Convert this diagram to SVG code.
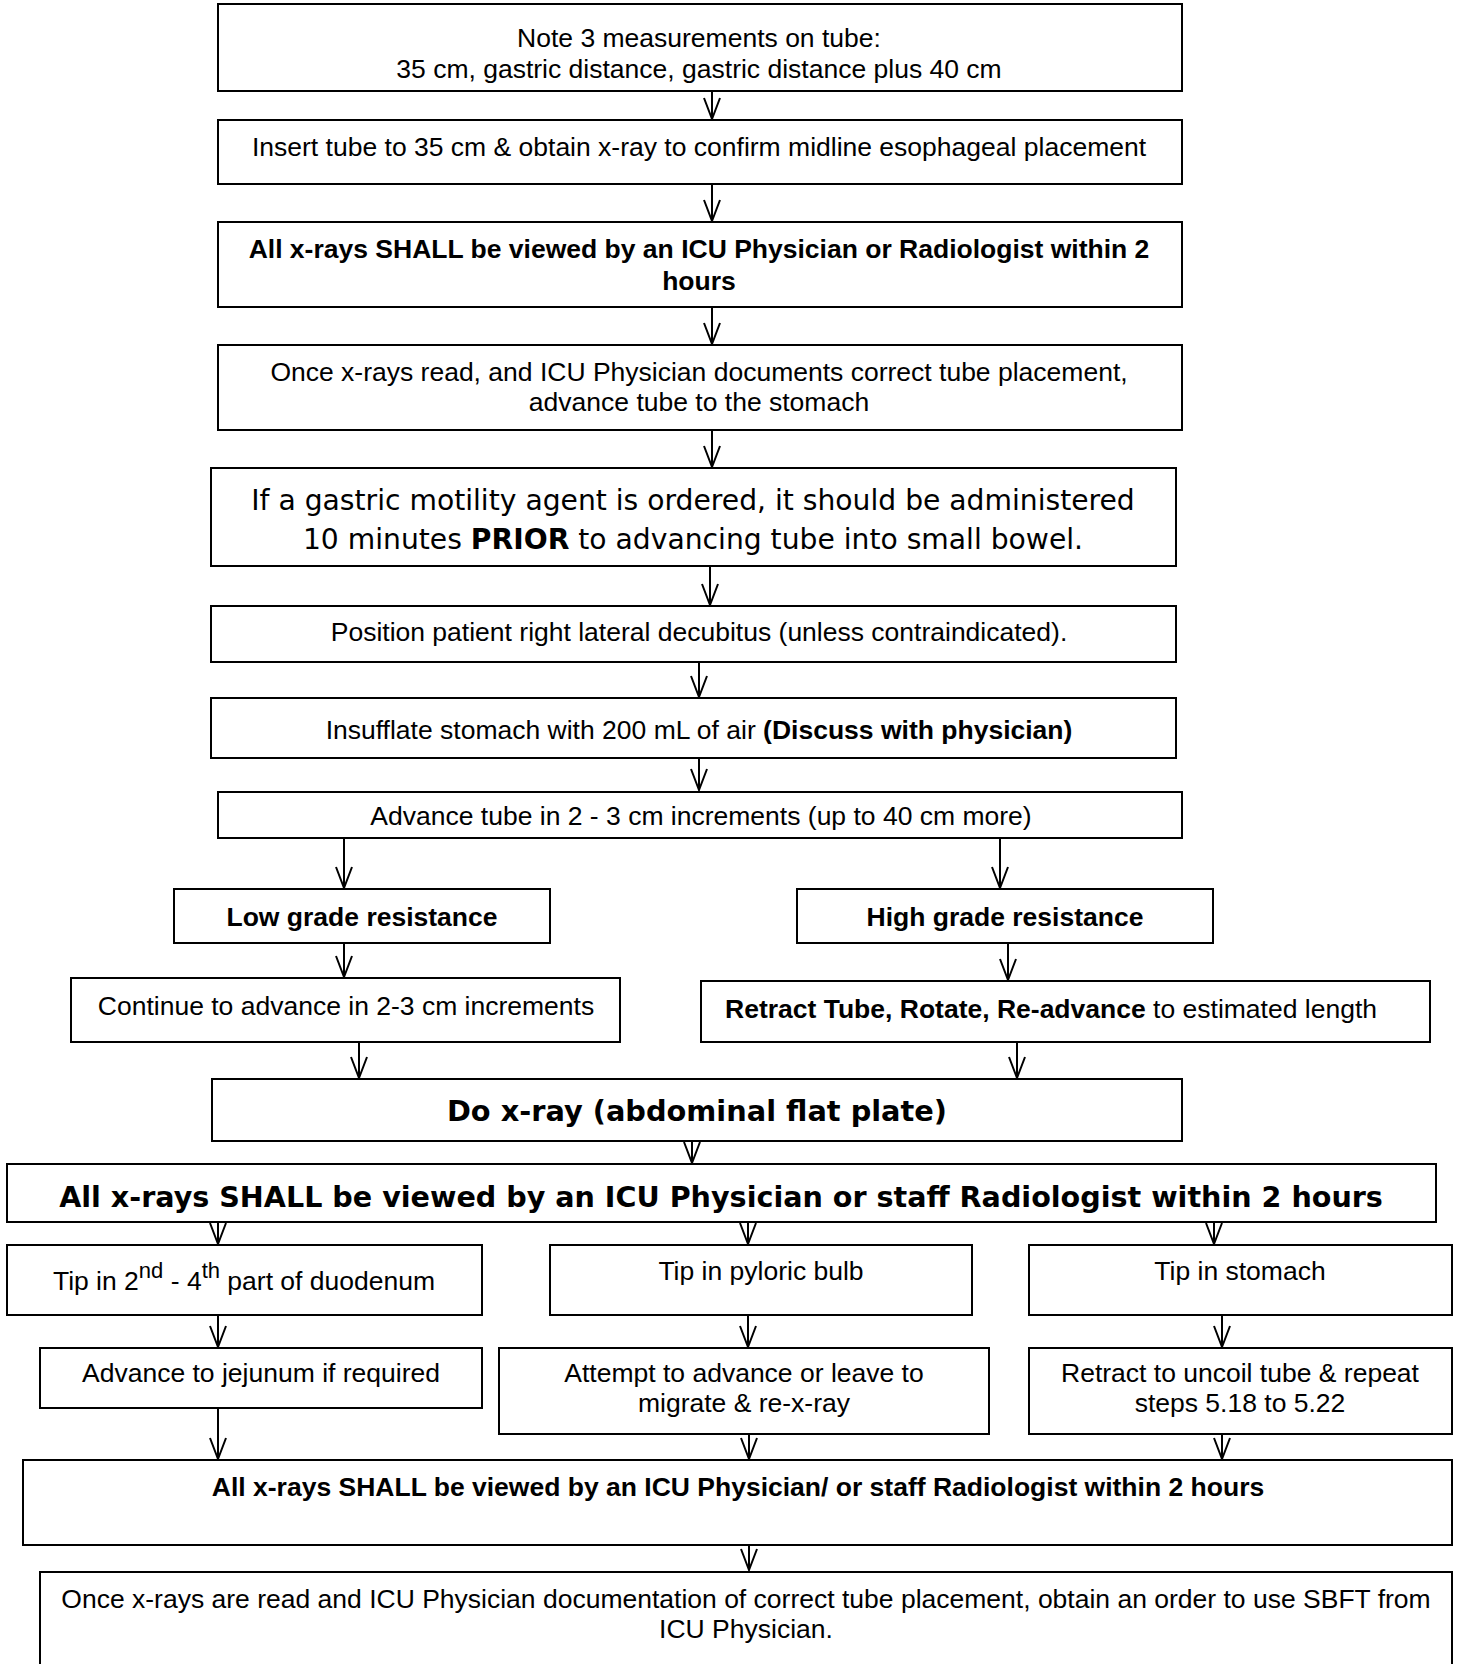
<svg xmlns="http://www.w3.org/2000/svg" width="1458" height="1664" viewBox="0 0 1458 1664">
<style>
.box{fill:#fff;stroke:#000;stroke-width:2}
.t{font-family:"Liberation Sans",Arial,sans-serif;font-size:26.5px;fill:#000;text-anchor:middle}
.b{font-weight:bold}
.v{font-family:"DejaVu Sans",Verdana,sans-serif;fill:#000;text-anchor:middle}
.c{fill:none;stroke:#000;stroke-width:2}
</style>
<defs>
<marker id="ah" markerUnits="userSpaceOnUse" markerWidth="24" markerHeight="20" refX="22" refY="9" orient="auto" viewBox="0 0 24 20" overflow="visible">
<path d="M1,1 L22,9 L1,17" fill="none" stroke="#000" stroke-width="2"/>
</marker>
</defs>
<rect width="1458" height="1664" fill="#fff"/>
<g id="connectors">
<line class="c" x1="712" y1="91" x2="712" y2="119" marker-end="url(#ah)"/>
<line class="c" x1="712" y1="184" x2="712" y2="221" marker-end="url(#ah)"/>
<line class="c" x1="712" y1="307" x2="712" y2="344" marker-end="url(#ah)"/>
<line class="c" x1="712" y1="430" x2="712" y2="467" marker-end="url(#ah)"/>
<line class="c" x1="710" y1="566" x2="710" y2="605" marker-end="url(#ah)"/>
<line class="c" x1="699" y1="662" x2="699" y2="697" marker-end="url(#ah)"/>
<line class="c" x1="699" y1="758" x2="699" y2="790" marker-end="url(#ah)"/>
<line class="c" x1="344" y1="838" x2="344" y2="888" marker-end="url(#ah)"/>
<line class="c" x1="1000" y1="838" x2="1000" y2="888" marker-end="url(#ah)"/>
<line class="c" x1="344" y1="943" x2="344" y2="977" marker-end="url(#ah)"/>
<line class="c" x1="1008" y1="943" x2="1008" y2="980" marker-end="url(#ah)"/>
<line class="c" x1="359" y1="1042" x2="359" y2="1078" marker-end="url(#ah)"/>
<line class="c" x1="1017" y1="1042" x2="1017" y2="1078" marker-end="url(#ah)"/>
<line class="c" x1="692" y1="1141" x2="692" y2="1163" marker-end="url(#ah)"/>
<line class="c" x1="218" y1="1222" x2="218" y2="1244" marker-end="url(#ah)"/>
<line class="c" x1="748" y1="1222" x2="748" y2="1244" marker-end="url(#ah)"/>
<line class="c" x1="1214" y1="1222" x2="1214" y2="1244" marker-end="url(#ah)"/>
<line class="c" x1="218" y1="1315" x2="218" y2="1347" marker-end="url(#ah)"/>
<line class="c" x1="748" y1="1315" x2="748" y2="1347" marker-end="url(#ah)"/>
<line class="c" x1="1222" y1="1315" x2="1222" y2="1347" marker-end="url(#ah)"/>
<line class="c" x1="218" y1="1408" x2="218" y2="1459" marker-end="url(#ah)"/>
<line class="c" x1="749" y1="1434" x2="749" y2="1459" marker-end="url(#ah)"/>
<line class="c" x1="1222" y1="1434" x2="1222" y2="1459" marker-end="url(#ah)"/>
<line class="c" x1="749" y1="1545" x2="749" y2="1570" marker-end="url(#ah)"/>
</g>
<g id="n1"><rect class="box" x="218" y="4" width="964" height="87"/>
<text class="t" x="699" y="47">Note 3 measurements on tube:</text>
<text class="t" x="699" y="78">35 cm, gastric distance, gastric distance plus 40 cm</text></g>
<g id="n2"><rect class="box" x="218" y="120" width="964" height="64"/>
<text class="t" x="699" y="156">Insert tube to 35 cm &amp; obtain x-ray to confirm midline esophageal placement</text></g>
<g id="n3"><rect class="box" x="218" y="222" width="964" height="85"/>
<text class="t b" x="699" y="258">All x-rays SHALL be viewed by an ICU Physician or Radiologist within 2</text>
<text class="t b" x="699" y="290">hours</text></g>
<g id="n4"><rect class="box" x="218" y="345" width="964" height="85"/>
<text class="t" x="699" y="381">Once x-rays read, and ICU Physician documents correct tube placement,</text>
<text class="t" x="699" y="411">advance tube to the stomach</text></g>
<g id="n5"><rect class="box" x="211" y="468" width="965" height="98"/>
<text class="v" font-size="28.2" x="693" y="510">If a gastric motility agent is ordered, it should be administered</text>
<text class="v" font-size="28.2" x="693" y="549">10 minutes <tspan font-weight="bold">PRIOR</tspan> to advancing tube into small bowel.</text></g>
<g id="n6"><rect class="box" x="211" y="606" width="965" height="56"/>
<text class="t" x="699" y="641">Position patient right lateral decubitus (unless contraindicated).</text></g>
<g id="n7"><rect class="box" x="211" y="698" width="965" height="60"/>
<text class="t" x="699" y="739">Insufflate stomach with 200 mL of air <tspan font-weight="bold">(Discuss with physician)</tspan></text></g>
<g id="n8"><rect class="box" x="218" y="792" width="964" height="46"/>
<text class="t" x="701" y="825">Advance tube in 2 - 3 cm increments (up to 40 cm more)</text></g>
<g id="n9"><rect class="box" x="174" y="889" width="376" height="54"/>
<text class="t b" x="362" y="926">Low grade resistance</text></g>
<g id="n10"><rect class="box" x="797" y="889" width="416" height="54"/>
<text class="t b" x="1005" y="926">High grade resistance</text></g>
<g id="n11"><rect class="box" x="71" y="978" width="549" height="64"/>
<text class="t" x="346" y="1015">Continue to advance in 2-3 cm increments</text></g>
<g id="n12"><rect class="box" x="701" y="981" width="729" height="61"/>
<text class="t" x="1051" y="1018"><tspan font-weight="bold">Retract Tube, Rotate, Re-advance</tspan> to estimated length</text></g>
<g id="n13"><rect class="box" x="212" y="1079" width="970" height="62"/>
<text class="v b" font-size="28.8" x="697" y="1121">Do x-ray (abdominal flat plate)</text></g>
<g id="n14"><rect class="box" x="7" y="1164" width="1429" height="58"/>
<text class="v b" font-size="28.6" x="721" y="1207">All x-rays SHALL be viewed by an ICU Physician or staff Radiologist within 2 hours</text></g>
<g id="n15"><rect class="box" x="7" y="1245" width="475" height="70"/>
<text class="t" x="244" y="1290">Tip in 2<tspan font-size="22" dy="-12">nd</tspan><tspan dy="12"> - 4</tspan><tspan font-size="22" dy="-12">th</tspan><tspan dy="12"> part of duodenum</tspan></text></g>
<g id="n16"><rect class="box" x="550" y="1245" width="422" height="70"/>
<text class="t" x="761" y="1280">Tip in pyloric bulb</text></g>
<g id="n17"><rect class="box" x="1029" y="1245" width="423" height="70"/>
<text class="t" x="1240" y="1280">Tip in stomach</text></g>
<g id="n18"><rect class="box" x="40" y="1348" width="442" height="60"/>
<text class="t" x="261" y="1382">Advance to jejunum if required</text></g>
<g id="n19"><rect class="box" x="499" y="1348" width="490" height="86"/>
<text class="t" x="744" y="1382">Attempt to advance or leave to</text>
<text class="t" x="744" y="1412">migrate &amp; re-x-ray</text></g>
<g id="n20"><rect class="box" x="1029" y="1348" width="423" height="86"/>
<text class="t" x="1240" y="1382">Retract to uncoil tube &amp; repeat</text>
<text class="t" x="1240" y="1412">steps 5.18 to 5.22</text></g>
<g id="n21"><rect class="box" x="23" y="1460" width="1429" height="85"/>
<text class="t b" x="738" y="1496">All x-rays SHALL be viewed by an ICU Physician/ or staff Radiologist within 2 hours</text></g>
<g id="n22"><rect class="box" x="40" y="1572" width="1412" height="110"/>
<text class="t" x="746" y="1608">Once x-rays are read and ICU Physician documentation of correct tube placement, obtain an order to use SBFT from</text>
<text class="t" x="746" y="1638">ICU Physician.</text></g>
</svg>
